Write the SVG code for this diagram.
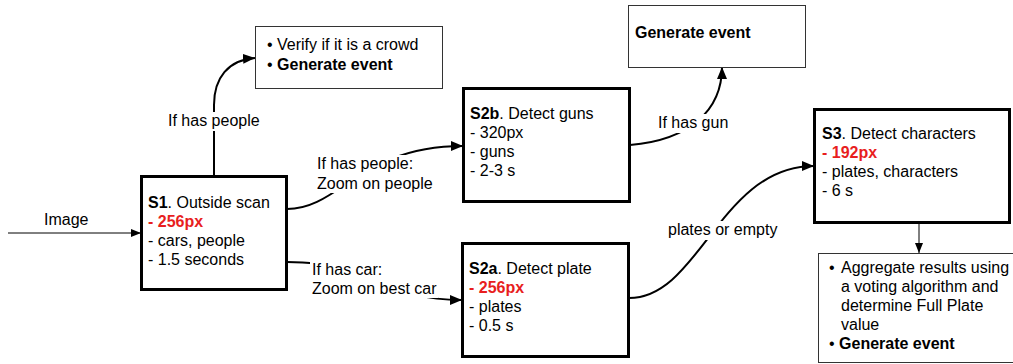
<svg xmlns="http://www.w3.org/2000/svg" width="1013" height="364" viewBox="0 0 1013 364">
<style>
text{font-family:"Liberation Sans",Arial,sans-serif;font-size:16px;fill:#000}
.b{font-weight:bold}
.r{fill:#e81e1e;font-weight:bold}
.thick{fill:#fff;stroke:#000;stroke-width:3}
.thin{fill:#fff;stroke:#333;stroke-width:1}
.c{fill:none;stroke:#000;stroke-width:2}
.c1{fill:none;stroke:#000;stroke-width:1}
.lbg{fill:#fff}
</style>
<defs>
<marker id="ah" markerUnits="userSpaceOnUse" markerWidth="14" markerHeight="12" refX="12" refY="5" orient="auto">
<path d="M0,0 L12,5 L0,10 z" fill="#000"/>
</marker>
<marker id="ah2" markerUnits="userSpaceOnUse" markerWidth="12" markerHeight="10" refX="10" refY="4" orient="auto">
<path d="M0,0 L10,4 L0,8 z" fill="#000"/>
</marker>
</defs>
<g id="connectors">
<path class="c1" d="M8,233 L141,233" marker-end="url(#ah2)"/>
<path class="c" d="M214,176 L214,105 C214,78 228,60 255,58" marker-end="url(#ah)"/>
<path class="c" d="M287,209 C340,209 360,146 463,146" marker-end="url(#ah)"/>
<path class="c" d="M287,262 C380,262 380,300 462,300" marker-end="url(#ah)"/>
<path class="c" d="M630,145 C690,140 722,110 722,67" marker-end="url(#ah)"/>
<path class="c" d="M629,298 C700,298 720,166 814,166" marker-end="url(#ah)"/>
<path class="c1" d="M919,222 L919,253" marker-end="url(#ah2)"/>
<rect class="lbg" x="42" y="210" width="50" height="20"/>
<text x="44" y="225">Image</text>
<rect class="lbg" x="166" y="112" width="96" height="19"/>
<text x="168" y="126">If has people</text>
<rect class="lbg" x="314" y="155" width="122" height="38"/>
<text x="317" y="169">If has people:</text>
<text x="317" y="189">Zoom on people</text>
<rect class="lbg" x="310" y="261" width="128" height="37"/>
<text x="312" y="275">If has car:</text>
<text x="312" y="294">Zoom on best car</text>
<rect class="lbg" x="656" y="114" width="74" height="19"/>
<text x="658" y="128">If has gun</text>
<rect class="lbg" x="666" y="221" width="114" height="19"/>
<text x="668" y="235">plates or empty</text>
</g>
<g id="verify">
<rect class="thin" x="255.5" y="26.5" width="187" height="62"/>
<text x="267" y="50">• Verify if it is a crowd</text>
<text x="267" y="70">• <tspan class="b">Generate event</tspan></text>
</g>
<g id="s1">
<rect class="thick" x="141.5" y="176.5" width="145" height="113"/>
<text x="148" y="208"><tspan class="b">S1</tspan>. Outside scan</text>
<text x="148" y="227" class="r">- 256px</text>
<text x="148" y="246">- cars, people</text>
<text x="148" y="265">- 1.5 seconds</text>
</g>
<g id="s2b">
<rect class="thick" x="463.5" y="88.5" width="166" height="113"/>
<text x="470" y="119"><tspan class="b">S2b</tspan>. Detect guns</text>
<text x="470" y="138">- 320px</text>
<text x="470" y="157">- guns</text>
<text x="470" y="176">- 2-3 s</text>
</g>
<g id="s2a">
<rect class="thick" x="462.5" y="243.5" width="166" height="113"/>
<text x="469" y="274"><tspan class="b">S2a</tspan>. Detect plate</text>
<text x="469" y="293" class="r">- 256px</text>
<text x="469" y="312">- plates</text>
<text x="469" y="331">- 0.5 s</text>
</g>
<g id="gen-gun">
<rect class="thin" x="628.5" y="5.5" width="177" height="62"/>
<text x="635" y="38" class="b">Generate event</text>
</g>
<g id="s3">
<rect class="thick" x="814.5" y="109.5" width="195" height="113"/>
<text x="822" y="139"><tspan class="b">S3</tspan>. Detect characters</text>
<text x="822" y="158" class="r">- 192px</text>
<text x="822" y="177">- plates, characters</text>
<text x="822" y="196">- 6 s</text>
</g>
<g id="aggregate">
<rect class="thin" x="818.5" y="253.5" width="200" height="109"/>
<text x="829" y="273">•</text>
<text x="841" y="273">Aggregate results using</text>
<text x="841" y="292">a voting algorithm and</text>
<text x="841" y="311">determine Full Plate</text>
<text x="841" y="330">value</text>
<text x="829" y="349">• <tspan class="b">Generate event</tspan></text>
</g>
</svg>
